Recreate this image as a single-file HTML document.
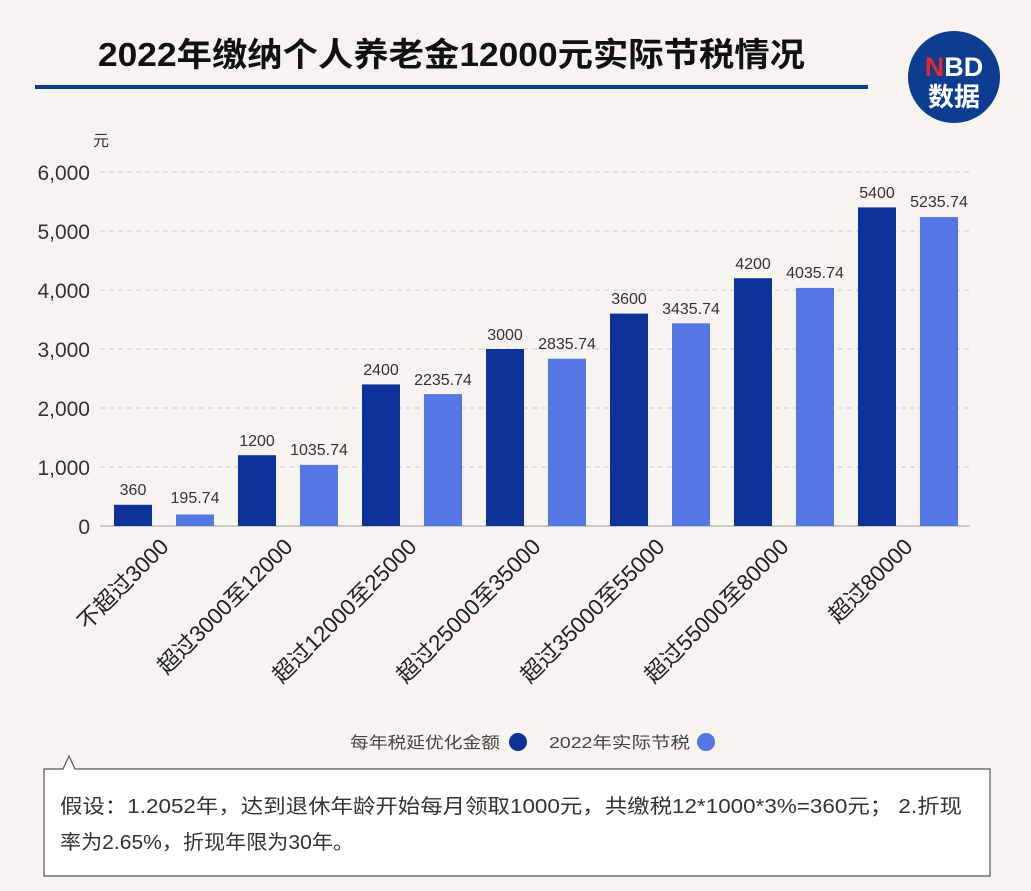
<!DOCTYPE html><html><head><meta charset="utf-8"><style>
body{margin:0;background:#f7f4ef;}
svg{display:block;font-family:"Liberation Sans","Noto Sans CJK SC",sans-serif;}
</style></head><body>
<svg width="1031" height="891" viewBox="0 0 1031 891">
<rect width="1031" height="891" fill="#f7f4ef"/>
<text x="98" y="66" font-size="33" font-weight="bold" fill="#111" textLength="707" lengthAdjust="spacingAndGlyphs">2022年缴纳个人养老金12000元实际节税情况</text>
<rect x="35" y="85" width="833" height="4" fill="#0c3d91"/>
<circle cx="954" cy="77" r="46" fill="#0c3d91"/>
<text x="954" y="76" text-anchor="middle" font-size="27" font-weight="bold" fill="#fff"><tspan fill="#e4262e">N</tspan>BD</text>
<text x="954" y="106" text-anchor="middle" font-size="26" font-weight="bold" fill="#fff">数据</text>
<text x="93" y="146" font-size="16" fill="#333">元</text>
<g stroke="#ccc" stroke-dasharray="5,4">
<line x1="100" y1="172" x2="970" y2="172"/><line x1="100" y1="231" x2="970" y2="231"/><line x1="100" y1="290" x2="970" y2="290"/><line x1="100" y1="349" x2="970" y2="349"/><line x1="100" y1="408" x2="970" y2="408"/><line x1="100" y1="467" x2="970" y2="467"/>
</g>
<line x1="100" y1="526" x2="970" y2="526" stroke="#bbb" stroke-width="1.5"/>
<g font-size="21" fill="#333" text-anchor="end">
<text x="90" y="180">6,000</text><text x="90" y="239">5,000</text><text x="90" y="298">4,000</text><text x="90" y="357">3,000</text><text x="90" y="416">2,000</text><text x="90" y="475">1,000</text><text x="90" y="534">0</text>
</g>
<g font-size="16" fill="#333" text-anchor="middle">
<rect x="114" y="504.8" width="38" height="21.2" fill="#0d3399"/><text x="133" y="495">360</text>
<rect x="176" y="514.5" width="38" height="11.5" fill="#5577e6"/><text x="195" y="503">195.74</text>
<rect x="238" y="455.2" width="38" height="70.8" fill="#0d3399"/><text x="257" y="446">1200</text>
<rect x="300" y="464.9" width="38" height="61.1" fill="#5577e6"/><text x="319" y="455">1035.74</text>
<rect x="362" y="384.4" width="38" height="141.6" fill="#0d3399"/><text x="381" y="375">2400</text>
<rect x="424" y="394.1" width="38" height="131.9" fill="#5577e6"/><text x="443" y="385">2235.74</text>
<rect x="486" y="349" width="38" height="177" fill="#0d3399"/><text x="505" y="340">3000</text>
<rect x="548" y="358.7" width="38" height="167.3" fill="#5577e6"/><text x="567" y="349">2835.74</text>
<rect x="610" y="313.6" width="38" height="212.4" fill="#0d3399"/><text x="629" y="304">3600</text>
<rect x="672" y="323.3" width="38" height="202.7" fill="#5577e6"/><text x="691" y="314">3435.74</text>
<rect x="734" y="278.2" width="38" height="247.8" fill="#0d3399"/><text x="753" y="269">4200</text>
<rect x="796" y="287.9" width="38" height="238.1" fill="#5577e6"/><text x="815" y="278">4035.74</text>
<rect x="858" y="207.4" width="38" height="318.6" fill="#0d3399"/><text x="877" y="198">5400</text>
<rect x="920" y="217.1" width="38" height="308.9" fill="#5577e6"/><text x="939" y="207">5235.74</text>
</g>
<g font-size="22.5" fill="#222" text-anchor="end">
<text transform="translate(170,548) rotate(-45)">不超过3000</text>
<text transform="translate(294,548) rotate(-45)">超过3000至12000</text>
<text transform="translate(418,548) rotate(-45)">超过12000至25000</text>
<text transform="translate(542,548) rotate(-45)">超过25000至35000</text>
<text transform="translate(666,548) rotate(-45)">超过35000至55000</text>
<text transform="translate(790,548) rotate(-45)">超过55000至80000</text>
<text transform="translate(914,548) rotate(-45)">超过80000</text>
</g>
<text x="350" y="748" font-size="16" fill="#444" textLength="150" lengthAdjust="spacingAndGlyphs">每年税延优化金额</text>
<circle cx="518" cy="742" r="9" fill="#0d3399"/>
<text x="549" y="748" font-size="16" fill="#444" textLength="141" lengthAdjust="spacingAndGlyphs">2022年实际节税</text>
<circle cx="706" cy="742" r="9" fill="#5577e6"/>
<path d="M44,769 L63,769 L69,756 L75,769 L990,769 L990,876 L44,876 Z" fill="#fff" stroke="#555" stroke-width="1.2"/>
<text x="60" y="813" font-size="20" fill="#333" textLength="902" lengthAdjust="spacingAndGlyphs">假设：1.2052年，达到退休年龄开始每月领取1000元，共缴税12*1000*3%=360元；  2.折现</text>
<text x="60" y="849" font-size="20" fill="#333" textLength="294" lengthAdjust="spacingAndGlyphs">率为2.65%，折现年限为30年。</text>
</svg>
</body></html>
